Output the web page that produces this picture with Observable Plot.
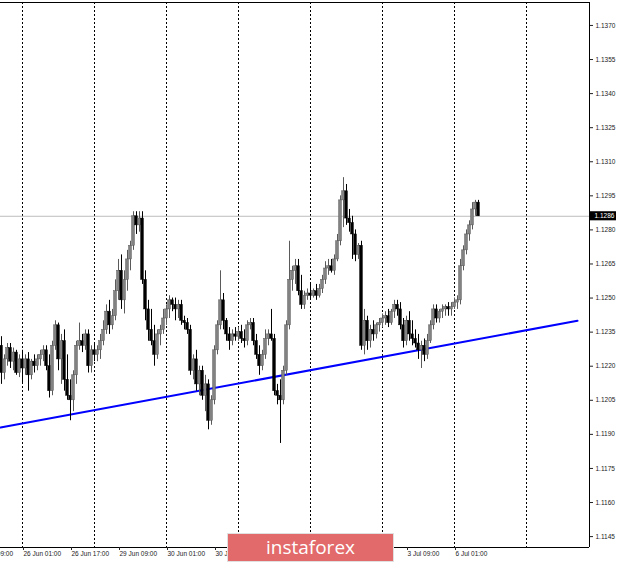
<!DOCTYPE html>
<html><head><meta charset="utf-8">
<script src="https://cdn.jsdelivr.net/npm/d3@7"></script>
<script src="https://cdn.jsdelivr.net/npm/@observablehq/plot@0.6"></script>
<style>
html,body{margin:0;padding:0;background:#fff;}
#wrap{position:relative;width:620px;height:562px;overflow:hidden;}
#wm{position:absolute;left:227px;top:533px;width:167px;height:29px;background:#e26a6a;color:#fff;font-family:"Open Sans",sans-serif;font-size:19px;line-height:27px;text-align:center;box-sizing:border-box;border:1px solid #e0e0e0;}
</style></head><body><div id="wrap"><div id="wm">instaforex</div></div>
<script>
// EURUSD H1, bar index 0 = 26 Jun 01:00
const firstBar = -7;
const open = [1.1229,1.1217,1.1223,1.1228,1.1222,1.1226,1.1217,
1.1223,1.1219,1.1223,1.1216,1.1222,1.1220,1.1223,1.1225,1.1227,1.1220,
1.1209,1.1229,1.1238,1.1223,1.1231,1.1214,1.1207,1.1205,1.1216,1.1229,
1.1231,1.1229,1.1234,1.1220,1.1227,1.1225,1.1227,1.1231,1.1236,1.1244,
1.1238,1.1242,1.1253,1.1262,1.1249,1.1258,1.1267,1.1273,1.1286,1.1282,
1.1285,1.1258,1.1245,1.1236,1.1231,1.1225,1.1234,1.1236,1.1241,1.1245,
1.1249,1.1247,1.1245,1.1247,1.1240,1.1239,1.1236,1.1218,1.1223,1.1212,
1.1218,1.1207,1.1212,1.1196,1.1205,1.1227,1.1238,1.1249,1.1240,1.1234,
1.1231,1.1234,1.1233,1.1235,1.1232,1.1231,1.1238,1.1239,1.1231,1.1225,
1.1220,1.1225,1.1232,1.1234,1.1232,1.1209,1.1207,1.1205,1.1218,1.1238,
1.1258,1.1262,1.1264,1.1253,1.1247,1.1251,1.1252,1.1251,1.1253,1.1251,
1.1254,1.1258,1.1263,1.1264,1.1262,1.1267,1.1275,1.1293,1.1297,1.1285,
1.1283,1.1278,1.1269,1.1273,1.1229,1.1240,1.1231,1.1236,1.1234,1.1238,
1.1239,1.1241,1.1242,1.1239,1.1244,1.1247,1.1245,1.1238,1.1231,1.1240,
1.1234,1.1232,1.1230,1.1227,1.1229,1.1225,1.1231,1.1238,1.1245,1.1241,
1.1244,1.1245,1.1246,1.1245,1.1246,1.1248,1.1249,1.1264,1.1271,1.1278,
1.1282,1.1289,1.1292];
const high = [1.1233,1.1225,1.1230,1.1230,1.1228,1.1227,1.1225,
1.1227,1.1225,1.1226,1.1223,1.1225,1.1225,1.1227,1.1229,1.1229,1.1225,
1.1231,1.1240,1.1239,1.1234,1.1236,1.1225,1.1214,1.1218,1.1231,1.1239,
1.1234,1.1236,1.1236,1.1229,1.1230,1.1229,1.1234,1.1240,1.1247,1.1249,
1.1245,1.1258,1.1267,1.1269,1.1262,1.1271,1.1275,1.1288,1.1288,1.1288,
1.1288,1.1262,1.1249,1.1245,1.1238,1.1236,1.1238,1.1245,1.1247,1.1251,
1.1250,1.1250,1.1249,1.1249,1.1242,1.1241,1.1238,1.1225,1.1227,1.1220,
1.1220,1.1216,1.1214,1.1207,1.1229,1.1240,1.1262,1.1252,1.1241,1.1237,
1.1236,1.1237,1.1237,1.1238,1.1236,1.1240,1.1241,1.1241,1.1234,1.1229,
1.1227,1.1236,1.1236,1.1245,1.1234,1.1212,1.1214,1.1220,1.1240,1.1275,
1.1264,1.1267,1.1267,1.1260,1.1253,1.1254,1.1256,1.1254,1.1256,1.1256,
1.1260,1.1266,1.1267,1.1267,1.1269,1.1278,1.1295,1.1303,1.1300,1.1289,
1.1286,1.1280,1.1274,1.1275,1.1245,1.1242,1.1238,1.1240,1.1239,1.1241,
1.1243,1.1244,1.1245,1.1245,1.1249,1.1249,1.1248,1.1241,1.1242,1.1244,
1.1240,1.1236,1.1234,1.1231,1.1232,1.1234,1.1240,1.1247,1.1247,1.1245,
1.1247,1.1247,1.1248,1.1248,1.1250,1.1251,1.1267,1.1273,1.1280,1.1284,
1.1292,1.1293,1.1293];
const low = [1.1212,1.1214,1.1220,1.1219,1.1218,1.1216,1.1215,
1.1212,1.1216,1.1209,1.1214,1.1217,1.1218,1.1220,1.1222,1.1218,1.1206,
1.1207,1.1227,1.1218,1.1212,1.1209,1.1205,1.1196,1.1200,1.1212,1.1227,
1.1226,1.1227,1.1217,1.1217,1.1222,1.1222,1.1223,1.1229,1.1234,1.1234,
1.1236,1.1240,1.1249,1.1245,1.1243,1.1253,1.1262,1.1271,1.1278,1.1279,
1.1256,1.1240,1.1231,1.1229,1.1220,1.1223,1.1229,1.1234,1.1238,1.1241,
1.1244,1.1240,1.1241,1.1238,1.1236,1.1234,1.1216,1.1214,1.1209,1.1207,
1.1205,1.1200,1.1192,1.1194,1.1203,1.1225,1.1236,1.1236,1.1231,1.1227,
1.1229,1.1231,1.1231,1.1230,1.1228,1.1229,1.1236,1.1229,1.1223,1.1216,
1.1218,1.1223,1.1229,1.1231,1.1207,1.1203,1.1186,1.1203,1.1216,1.1236,
1.1253,1.1256,1.1251,1.1245,1.1245,1.1249,1.1249,1.1250,1.1249,1.1250,
1.1252,1.1256,1.1260,1.1261,1.1260,1.1266,1.1273,1.1281,1.1282,1.1279,
1.1267,1.1266,1.1267,1.1227,1.1225,1.1227,1.1228,1.1231,1.1232,1.1235,
1.1237,1.1238,1.1237,1.1238,1.1241,1.1242,1.1236,1.1228,1.1229,1.1231,
1.1229,1.1228,1.1223,1.1219,1.1222,1.1223,1.1230,1.1236,1.1239,1.1239,
1.1241,1.1242,1.1242,1.1242,1.1245,1.1245,1.1247,1.1262,1.1269,1.1275,
1.1280,1.1286,1.1286];
const close = [1.1217,1.1223,1.1228,1.1222,1.1226,1.1217,1.1223,
1.1219,1.1223,1.1216,1.1222,1.1220,1.1223,1.1225,1.1227,1.1220,1.1209,
1.1229,1.1238,1.1223,1.1231,1.1214,1.1207,1.1205,1.1216,1.1229,1.1231,
1.1229,1.1234,1.1220,1.1227,1.1225,1.1227,1.1231,1.1236,1.1244,1.1238,
1.1242,1.1253,1.1262,1.1249,1.1258,1.1267,1.1273,1.1286,1.1282,1.1285,
1.1258,1.1245,1.1236,1.1231,1.1225,1.1234,1.1236,1.1241,1.1245,1.1249,
1.1247,1.1245,1.1247,1.1240,1.1239,1.1236,1.1218,1.1223,1.1212,1.1218,
1.1207,1.1212,1.1196,1.1205,1.1227,1.1238,1.1249,1.1240,1.1234,1.1231,
1.1234,1.1233,1.1235,1.1232,1.1231,1.1238,1.1239,1.1231,1.1225,1.1220,
1.1225,1.1232,1.1234,1.1232,1.1209,1.1207,1.1205,1.1218,1.1238,1.1258,
1.1262,1.1264,1.1253,1.1247,1.1251,1.1252,1.1251,1.1253,1.1251,1.1254,
1.1258,1.1263,1.1264,1.1262,1.1267,1.1275,1.1293,1.1297,1.1285,1.1283,
1.1278,1.1269,1.1273,1.1229,1.1240,1.1231,1.1236,1.1234,1.1238,1.1239,
1.1241,1.1242,1.1239,1.1244,1.1247,1.1245,1.1238,1.1231,1.1240,1.1234,
1.1232,1.1230,1.1227,1.1229,1.1225,1.1231,1.1238,1.1245,1.1241,1.1244,
1.1245,1.1246,1.1245,1.1246,1.1248,1.1249,1.1264,1.1271,1.1278,1.1282,
1.1289,1.1292,1.1286];

const yTicks = [1.1145,1.1160,1.1175,1.1190,1.1205,1.1220,1.1235,1.1250,1.1265,1.1280,1.1295,1.1310,1.1325,1.1340,1.1355,1.1370];
const gridBars = [0,24,48,72,96,120,144,168];
const timeBars = [-16,0,16,32,48,64,80,96,112,128,144];
const timeLabels = ["25 Jun 09:00","26 Jun 01:00","26 Jun 17:00","29 Jun 09:00","30 Jun 01:00","30 Jun 17:00","1 Jul 09:00","2 Jul 01:00","2 Jul 17:00","3 Jul 09:00","6 Jul 01:00"];
const currentPrice = 1.1286;
const trendBars = [-7.33, 185];
const trendPrices = [1.1193, 1.1240];

const xDomain = [-22/3, 189];
const yDomain = [1.11402, 1.13801];

const candles = close.map((c, i) => ({bar: firstBar + i, open: open[i], high: high[i], low: low[i], close: c, up: c >= open[i]}));
const trend = trendBars.map((b, i) => ({bar: b, price: trendPrices[i]}));
const labelByBar = new Map(timeBars.map((b, i) => [b, timeLabels[i]]));

const chart = Plot.plot({
  width: 620, height: 562,
  marginTop: 2, marginBottom: 15, marginLeft: 0, marginRight: 31,
  x: {type: "linear", domain: xDomain, axis: null},
  y: {domain: yDomain, axis: null},
  color: {type: "identity"},
  style: {background: "white", fontFamily: "'Liberation Sans', Arial, sans-serif", fontSize: "6.5px", overflow: "hidden"},
  marks: [
    Plot.ruleX(gridBars, {stroke: "#000", strokeDasharray: "2,2", strokeWidth: 1}),
    Plot.ruleY([currentPrice], {stroke: "#bdbdbd"}),
    Plot.line(trend, {x: "bar", y: "price", stroke: "#0000ff", strokeWidth: 2}),
    Plot.ruleX(candles, {x: "bar", y1: "low", y2: "high", stroke: d => d.up ? "#5a5a5a" : "#000"}),
    Plot.rect(candles, {x1: d => d.bar - 0.45, x2: d => d.bar + 0.45, y1: "open", y2: "close", fill: d => d.up ? "#828282" : "#000", stroke: d => d.up ? "#555" : "#000", strokeWidth: 0.5}),
    Plot.ruleY([yDomain[1]], {stroke: "#000"}),
    Plot.ruleY([yDomain[0]], {stroke: "#000"}),
    Plot.ruleX([xDomain[1]], {stroke: "#000"}),
    Plot.axisY(yTicks, {anchor: "right", label: null, tickSize: 3, tickPadding: 3, tickFormat: d => d.toFixed(4), color: "#222", fontSize: 6.5}),
    Plot.axisX(timeBars, {anchor: "bottom", label: null, tickSize: 3, tickPadding: 1, tickFormat: d => labelByBar.get(d), textAnchor: "start", dx: 1, color: "#222", fontSize: 6.5}),
    Plot.rect([currentPrice], {x1: () => xDomain[1] + 0.3, x2: () => xDomain[1] + 9, y1: d => d - 0.0002, y2: d => d + 0.0002, fill: "#000"}),
    Plot.text([currentPrice], {x: () => xDomain[1], y: d => d, text: d => d.toFixed(4), dx: 5, textAnchor: "start", fill: "#fff", fontSize: 6.5})
  ]
});
const wrap = document.getElementById("wrap");
wrap.insertBefore(chart, document.getElementById("wm"));
</script>
</body></html>
